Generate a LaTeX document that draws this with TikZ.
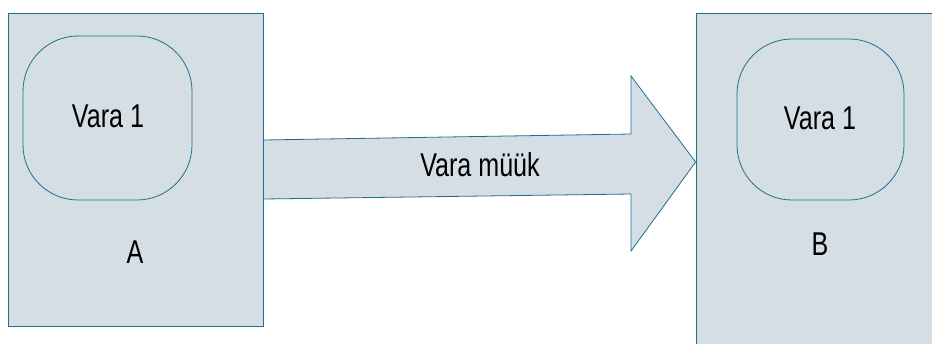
\documentclass[tikz,border=0pt]{standalone}
\usepackage{fontspec}
\setmainfont{Liberation Sans}
\definecolor{boxfill}{RGB}{214,222,229}
\definecolor{boxline}{RGB}{31,110,140}
\newcommand{\lbl}[1]{\scalebox{0.76}[1]{\fontsize{33}{40}\selectfont #1}}
\begin{document}
\begin{tikzpicture}[x=1pt,y=-1pt,
  panel/.style={draw=boxline,fill=boxfill,line width=0.8pt,inner sep=0pt},
  inner/.style={draw=boxline,fill=boxfill,line width=0.8pt,rounded corners=55pt,inner sep=0pt},
  txt/.style={inner sep=0pt,text=black}]
\useasboundingbox (0,0) rectangle (932,343);
\clip (0,0) rectangle (932,343);
\node[panel,minimum width=255pt,minimum height=313pt] (A) at (135.5,169.5) {};
\node[panel,minimum width=244pt,minimum height=337pt] (B) at (818,181.5) {};
\node[inner,minimum width=169pt,minimum height=164pt] (A1) at (107.5,118) {};
\node[inner,minimum width=167pt,minimum height=161pt] (B1) at (820.5,119.5) {};
\node[txt] (tA1) at (108,116) {\lbl{Vara 1}};
\node[txt] (tB1) at (820,118) {\lbl{Vara 1}};
\node[txt] (tA) at (135,252.5) {\lbl{A}};
\node[txt] (tB) at (820,244) {\lbl{B}};
\coordinate (s1) at (A.east |- 0,140);
\coordinate (s2) at (A.east |- 0,199);
\coordinate (tip) at (B.west |- 0,162);
\draw[draw=boxline,fill=boxfill,line width=0.8pt,line join=miter]
  (s1) -- (631,134) -- (631,76) -- (tip) -- (631,251) -- (631,194) -- (s2) -- cycle;
\node[txt] (lab) at (480,165) {\lbl{Vara müük}};
\end{tikzpicture}
\end{document}
